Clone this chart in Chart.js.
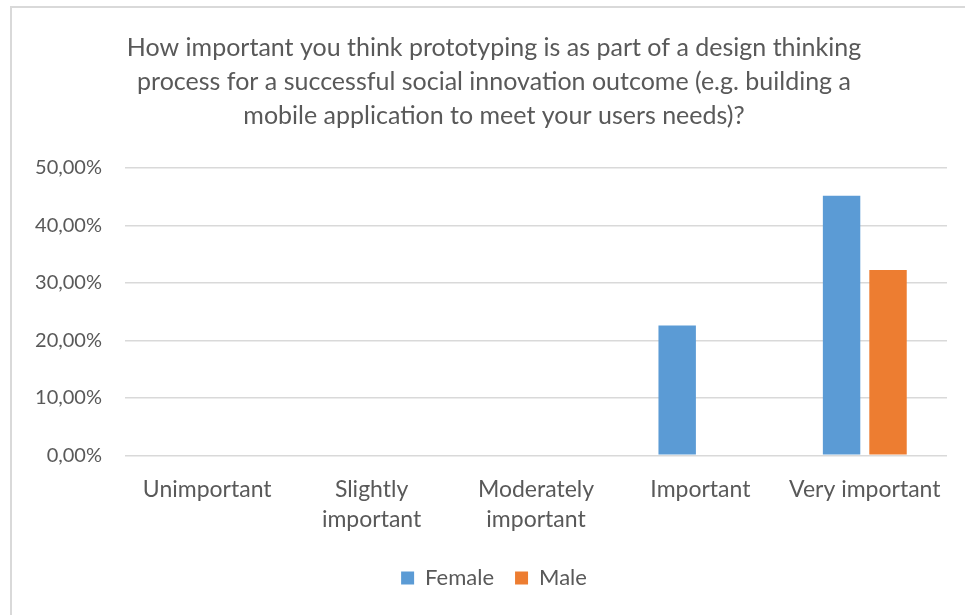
<!DOCTYPE html>
<html>
<head>
<meta charset="utf-8">
<script src="https://cdn.jsdelivr.net/npm/chart.js@4"></script>
<style>
  html, body { margin: 0; padding: 0; background: #fff; overflow: hidden; }
  #frame { position: absolute; left: 10px; top: 6px; width: 980px; height: 640px; border: 2px solid #d9d9d9; box-sizing: border-box; }
  #wrap { position: absolute; left: 12px; top: 0; width: 965px; height: 615px; }
</style>
</head>
<body>
<div id="frame"></div>
<div id="wrap"><canvas id="myChart" width="965" height="615"></canvas></div>
<script>
// categories and series (share of respondents, %)
const categories = ["Unimportant", ["Slightly", "important"], ["Moderately", "important"], "Important", "Very important"];
const female = [0, 0, 0, 22.58, 45.16];
const male = [0, 0, 0, 0, 32.26];
const yTicks = [0, 10, 20, 30, 40, 50];

const textGrey = '#595959';
const font = "Lato, 'Open Sans', sans-serif";

let ctx = document.getElementById("myChart");
let myChart = new Chart(ctx, {
    type: 'bar',
    data: {
        labels: categories,
        datasets: [{
            label: 'Female',
            data: female,
            backgroundColor: '#5b9bd5',
            barPercentage: 0.806,
            categoryPercentage: 0.565
        }, {
            label: 'Male',
            data: male,
            backgroundColor: '#ed7d31',
            barPercentage: 0.806,
            categoryPercentage: 0.565
        }]
    },
    options: {
        responsive: false,
        animation: false,
        layout: { padding: { left: 19, right: 20, top: 0, bottom: 16 } },
        plugins: {
            title: {
                display: true,
                text: ["How important you think prototyping is as part of a design thinking",
                       "process for a successful social innovation outcome (e.g. building a",
                       "mobile application to meet your users needs)?"],
                color: textGrey,
                font: { family: font, size: 25, weight: 'normal', lineHeight: 1.36 },
                padding: { top: 31, bottom: 35 }
            },
            legend: {
                position: 'bottom',
                labels: {
                    color: textGrey,
                    font: { family: font, size: 22 },
                    boxWidth: 13,
                    boxHeight: 13,
                    padding: 21
                }
            },
            tooltip: { enabled: false }
        },
        scales: {
            x: {
                grid: { display: false },
                border: { display: false },
                ticks: {
                    color: textGrey,
                    font: { family: font, size: 23, lineHeight: 1.32 },
                    maxRotation: 0,
                    padding: 11
                }
            },
            y: {
                min: 0,
                max: 50,
                afterBuildTicks: axis => { axis.ticks = yTicks.map(v => ({ value: v })); },
                afterFit: axis => { axis.width = 94; },
                grid: { color: '#d9d9d9', lineWidth: 1.5, drawTicks: false },
                border: { display: false },
                ticks: {
                    color: textGrey,
                    font: { family: font, size: 20 },
                    padding: 23,
                    callback: v => v.toFixed(2).replace('.', ',') + '%'
                }
            },
            // empty spacer on the right so title and legend centre like the original
            y2: {
                type: 'linear',
                position: 'right',
                grid: { display: false },
                border: { display: false },
                ticks: { display: false },
                afterFit: axis => { axis.width = 10; }
            }
        }
    }
});
</script>
</body>
</html>
